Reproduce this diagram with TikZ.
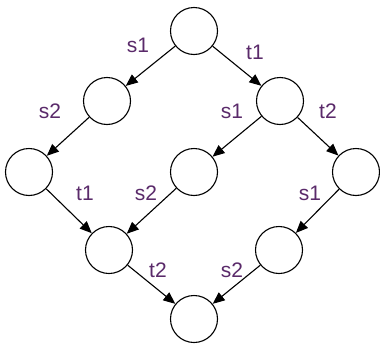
\documentclass[tikz,border=0pt]{standalone}
\usepackage{fontspec}
\setmainfont{Liberation Sans}
\usetikzlibrary{arrows.meta}
\definecolor{lab}{HTML}{5A2A6A}
\begin{document}
\begin{tikzpicture}[x=1pt,y=-1pt,
  st/.style={circle,draw=black,line width=1.1pt,minimum size=47pt,inner sep=0pt},
  tr/.style={draw=black,line width=1.1pt,-{Triangle[length=12pt,width=10pt]}},
  lb/.style={text=lab,font=\fontsize{21}{21}\selectfont,inner sep=0pt}]
\useasboundingbox (0,0) rectangle (380,343);
\node[st] (a) at (194,31) {};
\node[st] (b) at (107,101) {};
\node[st] (c) at (280,101) {};
\node[st] (d) at (29,172) {};
\node[st] (e) at (194,172) {};
\node[st] (f) at (356,172) {};
\node[st] (g) at (109,250) {};
\node[st] (h) at (279,250) {};
\node[st] (i) at (194,319) {};
\draw[tr] (a) -- (b);
\draw[tr] (a) -- (c);
\draw[tr] (b) -- (d);
\draw[tr] (c) -- (e);
\draw[tr] (c) -- (f);
\draw[tr] (d) -- (g);
\draw[tr] (e) -- (g);
\draw[tr] (f) -- (h);
\draw[tr] (g) -- (i);
\draw[tr] (h) -- (i);
\node[lb] (l1) at (138,45) {s1};
\node[lb] (l2) at (255,52) {t1};
\node[lb] (l3) at (50,111) {s2};
\node[lb] (l4) at (232,111) {s1};
\node[lb] (l5) at (328,111) {t2};
\node[lb] (l6) at (85,193) {t1};
\node[lb] (l7) at (146,193) {s2};
\node[lb] (l8) at (310,193) {s1};
\node[lb] (l9) at (158,270) {t2};
\node[lb] (l10) at (232,270) {s2};
\end{tikzpicture}
\end{document}
